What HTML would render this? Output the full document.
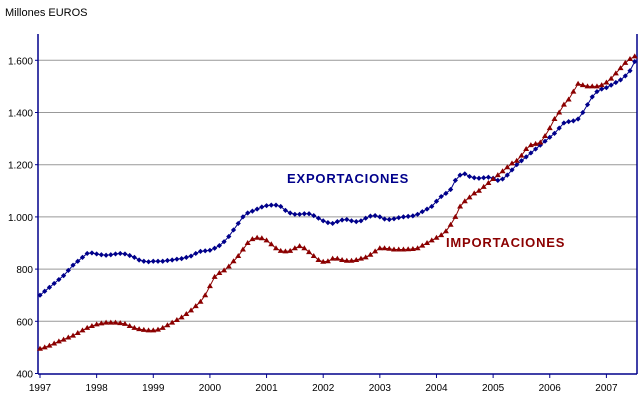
<!DOCTYPE html>
<html><head><meta charset="utf-8"><style>
body{margin:0;background:#fff;}
svg{display:block;font-family:"Liberation Sans",sans-serif;}
</style></head><body>
<svg id="chart" width="643" height="400">
<text x="5" y="16" font-size="11" fill="#000">Millones EUROS</text>
<g id="grid"></g><g id="axes"></g><g id="series"></g>
<text x="287" y="183" font-size="13" font-weight="bold" fill="#00008b" letter-spacing="0.8">EXPORTACIONES</text>
<text x="446" y="247" font-size="13" font-weight="bold" fill="#8b0000" letter-spacing="0.8">IMPORTACIONES</text>
</svg>
<script>
const yTicks=[400,600,800,1000,1200,1400,1600];
const yTickLabels=["400","600","800","1.000","1.200","1.400","1.600"];
const years=["1997","1998","1999","2000","2001","2002","2003","2004","2005","2006","2007"];
const exportsData=[700,715,730,745,760,775,795,815,830,845,860,862,
858,855,853,855,858,860,858,852,845,835,830,828,
830,830,830,833,835,838,840,845,850,860,868,870,
872,880,890,905,925,950,975,1000,1015,1022,1030,1038,
1043,1045,1045,1040,1025,1015,1010,1010,1012,1012,1005,995,
985,978,975,982,988,990,985,982,985,995,1003,1005,
1000,992,990,993,997,1000,1002,1004,1010,1020,1030,1040,
1060,1078,1090,1105,1140,1160,1165,1155,1150,1148,1150,1152,
1148,1140,1145,1160,1180,1200,1215,1230,1245,1260,1275,1290,
1305,1320,1340,1360,1365,1368,1375,1400,1430,1460,1480,1490,
1495,1505,1515,1525,1540,1560,1595];
const importsData=[495,500,507,515,523,530,538,545,555,565,575,582,
588,592,595,595,595,593,590,582,575,570,567,565,
565,568,575,585,595,605,615,628,642,658,675,700,
735,770,785,795,810,830,850,875,900,915,920,918,
910,895,880,870,868,870,880,888,880,865,850,835,
828,830,840,840,835,832,832,835,840,845,855,868,
880,880,878,875,875,875,876,877,880,890,900,910,
920,930,945,970,1000,1040,1060,1075,1090,1100,1115,1130,
1145,1160,1175,1190,1205,1215,1235,1260,1275,1280,1285,1310,
1340,1375,1400,1430,1450,1480,1510,1505,1500,1500,1500,1505,
1515,1530,1550,1570,1590,1605,1615];
const NS="http://www.w3.org/2000/svg";
const X0=40,MPX=4.72,Y400=373.5,PPU=52.2/200;
function xs(i){return X0+i*MPX;}
function ys(v){return Y400-(v-400)*PPU;}
function mk(tag,at,parent){const e=document.createElementNS(NS,tag);for(const k in at)e.setAttribute(k,at[k]);parent.appendChild(e);return e;}
const grid=document.getElementById('grid'),axes=document.getElementById('axes'),ser=document.getElementById('series');
yTicks.forEach((v,i)=>{
 if(i>0){const l=mk('line',{x1:38,x2:637,y1:ys(v),y2:ys(v),stroke:'#999','stroke-width':1},grid);
 
 }
 const t=mk('text',{x:33,y:ys(v)+4,'font-size':10,'text-anchor':'end',fill:'#000'},axes);t.textContent=yTickLabels[i];
 
 
 mk('line',{x1:35,x2:38,y1:ys(v),y2:ys(v),stroke:'#00008b'},axes);
});
const ya=mk('line',{x1:38,x2:38,y1:34,y2:374,stroke:'#00008b','stroke-width':1.5},axes);


const ra=mk('line',{x1:637,x2:637,y1:34,y2:374,stroke:'#00008b','stroke-width':1.5},axes);


const xa=mk('line',{x1:38,x2:637,y1:374,y2:374,stroke:'#00008b','stroke-width':1.5},axes);


years.forEach((y,i)=>{
 const x=xs(i*12);
 mk('line',{x1:x,x2:x,y1:374,y2:378,stroke:'#00008b'},axes);
 const t=mk('text',{x:x,y:391,'font-size':10,'text-anchor':'middle',fill:'#000'},axes);t.textContent=y;
 
 
});
function drawLine(data,color,name){
 const p=mk('polyline',{points:data.map((v,i)=>xs(i)+','+ys(v)).join(' '),fill:'none',stroke:color,'stroke-width':1},ser);
 
 
}
drawLine(exportsData,'#00008b','exports');
drawLine(importsData,'#8b0000','imports');
exportsData.forEach((v,i)=>{
 const x=xs(i),y=ys(v);
 const d=mk('polygon',{points:`${x},${y-2.6} ${x+2.6},${y} ${x},${y+2.6} ${x-2.6},${y}`,fill:'#00008b'},ser);
 
 
});
importsData.forEach((v,i)=>{
 const x=xs(i),y=ys(v);
 const d=mk('polygon',{points:`${x},${y-3} ${x+3},${y+2} ${x-3},${y+2}`,fill:'#8b0000'},ser);
 
 
});
</script>
</body></html>
